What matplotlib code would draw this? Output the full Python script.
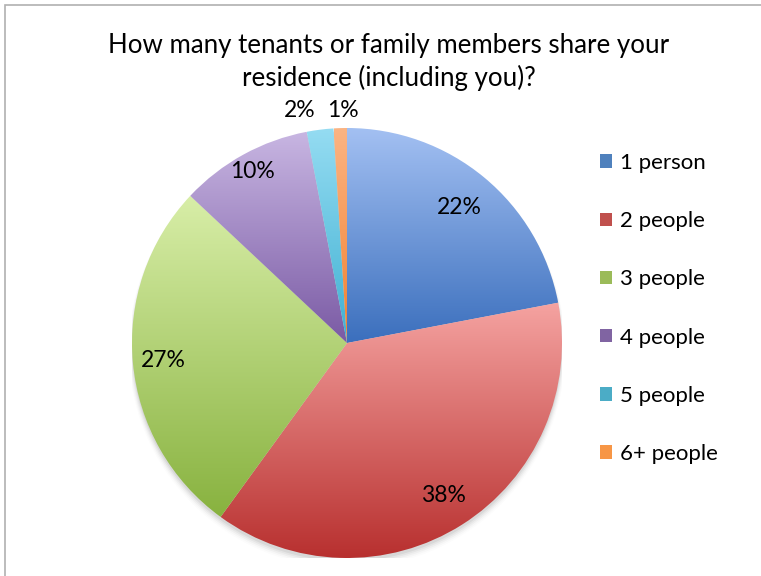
'''Pie chart: household size of respondents'''

import numpy as np
import matplotlib.pyplot as plt
from matplotlib.colors import LinearSegmentedColormap
from matplotlib.patches import Patch, Rectangle

plt.rcParams['font.family'] = ['Lato', 'DejaVu Sans']

labels = ["1 person", "2 people", "3 people", "4 people", "5 people", "6+ people"]
values = [22, 38, 27, 10, 2, 1]

# light (top) / dark (bottom) gradient colours per slice
top_colors = ["#a3c0f2", "#f5a3a1", "#d8eea8", "#c8b6e2", "#95dcf2", "#fbb483"]
bottom_colors = ["#3b6fbd", "#b8302f", "#88b23f", "#7a5aa4", "#3fb0d2", "#f2812f"]
legend_colors = ["#4f81bd", "#c0504d", "#9bbb59", "#8064a2", "#4bacc6", "#f79646"]

fig = plt.figure(figsize=(7.61, 5.76), dpi=100)

# chart area border (only left / top visible in the crop)
fig.patches.append(Rectangle((5 / 761, -0.1), 1.2, 1.1 - 5 / 576, transform=fig.transFigure,
                             fill=False, edgecolor="#b0b0b0", linewidth=1.2))

fig.text(389 / 761, 1 - 45 / 576, "How many tenants or family members share your",
         ha="center", va="center", fontsize=18.6)
fig.text(389 / 761, 1 - 78 / 576, "residence (including you)?",
         ha="center", va="center", fontsize=18.6)

R = 215
ax = fig.add_axes([(347 - R) / 761, (576 - 343 - R) / 576, 2 * R / 761, 2 * R / 576])
ax.set_xlim(-1, 1)
ax.set_ylim(-1, 1)
ax.set_aspect("equal")
ax.axis("off")

# soft shadow under the pie
for i, a in enumerate(np.linspace(0.05, 0.01, 5)):
    sh = plt.Circle((0.0, -0.015 - 0.004 * i), 1.0 + 0.004 * i, color="black", alpha=a,
                    linewidth=0, zorder=0)
    ax.add_patch(sh)

wedges, texts = ax.pie(values, startangle=90, counterclock=False, radius=1,
                       wedgeprops=dict(facecolor="none", edgecolor="none"))

for w, c1, c2 in zip(wedges, top_colors, bottom_colors):
    ext = w.get_path().get_extents(w.get_patch_transform())
    cmap = LinearSegmentedColormap.from_list("g", [c2, c1])
    grad = np.linspace(0, 1, 256).reshape(-1, 1)
    im = ax.imshow(grad, cmap=cmap, origin="lower", aspect="auto",
                   extent=[ext.x0, ext.x1, ext.y0, ext.y1], zorder=1)
    im.set_clip_path(w)

ax.set_xlim(-1, 1)
ax.set_ylim(-1, 1)

# percent labels
label_dist = [0.82, 0.84, 0.86, 0.91]
for w, v, d in zip(wedges[:4], values[:4], label_dist):
    ang = np.deg2rad((w.theta1 + w.theta2) / 2)
    ax.text(d * np.cos(ang), d * np.sin(ang), f"{v}%", ha="center", va="center",
            fontsize=16.5, zorder=3)

# small slices labelled above the pie
ax.text(-47 / R, 1.08, f"{values[4]}%", ha="center", va="center", fontsize=16.5, zorder=3)
ax.text(-4 / R, 1.08, f"{values[5]}%", ha="center", va="center", fontsize=16.5, zorder=3)

handles = [Patch(facecolor=c, edgecolor="none") for c in legend_colors]
fig.legend(handles, labels, loc="upper left", bbox_to_anchor=(591 / 761, 1 - 144 / 576),
           frameon=False, fontsize=16, handlelength=0.55, handleheight=0.55,
           handletextpad=0.35, labelspacing=1.72, borderaxespad=0)

fig.savefig("out.png", dpi=100)
